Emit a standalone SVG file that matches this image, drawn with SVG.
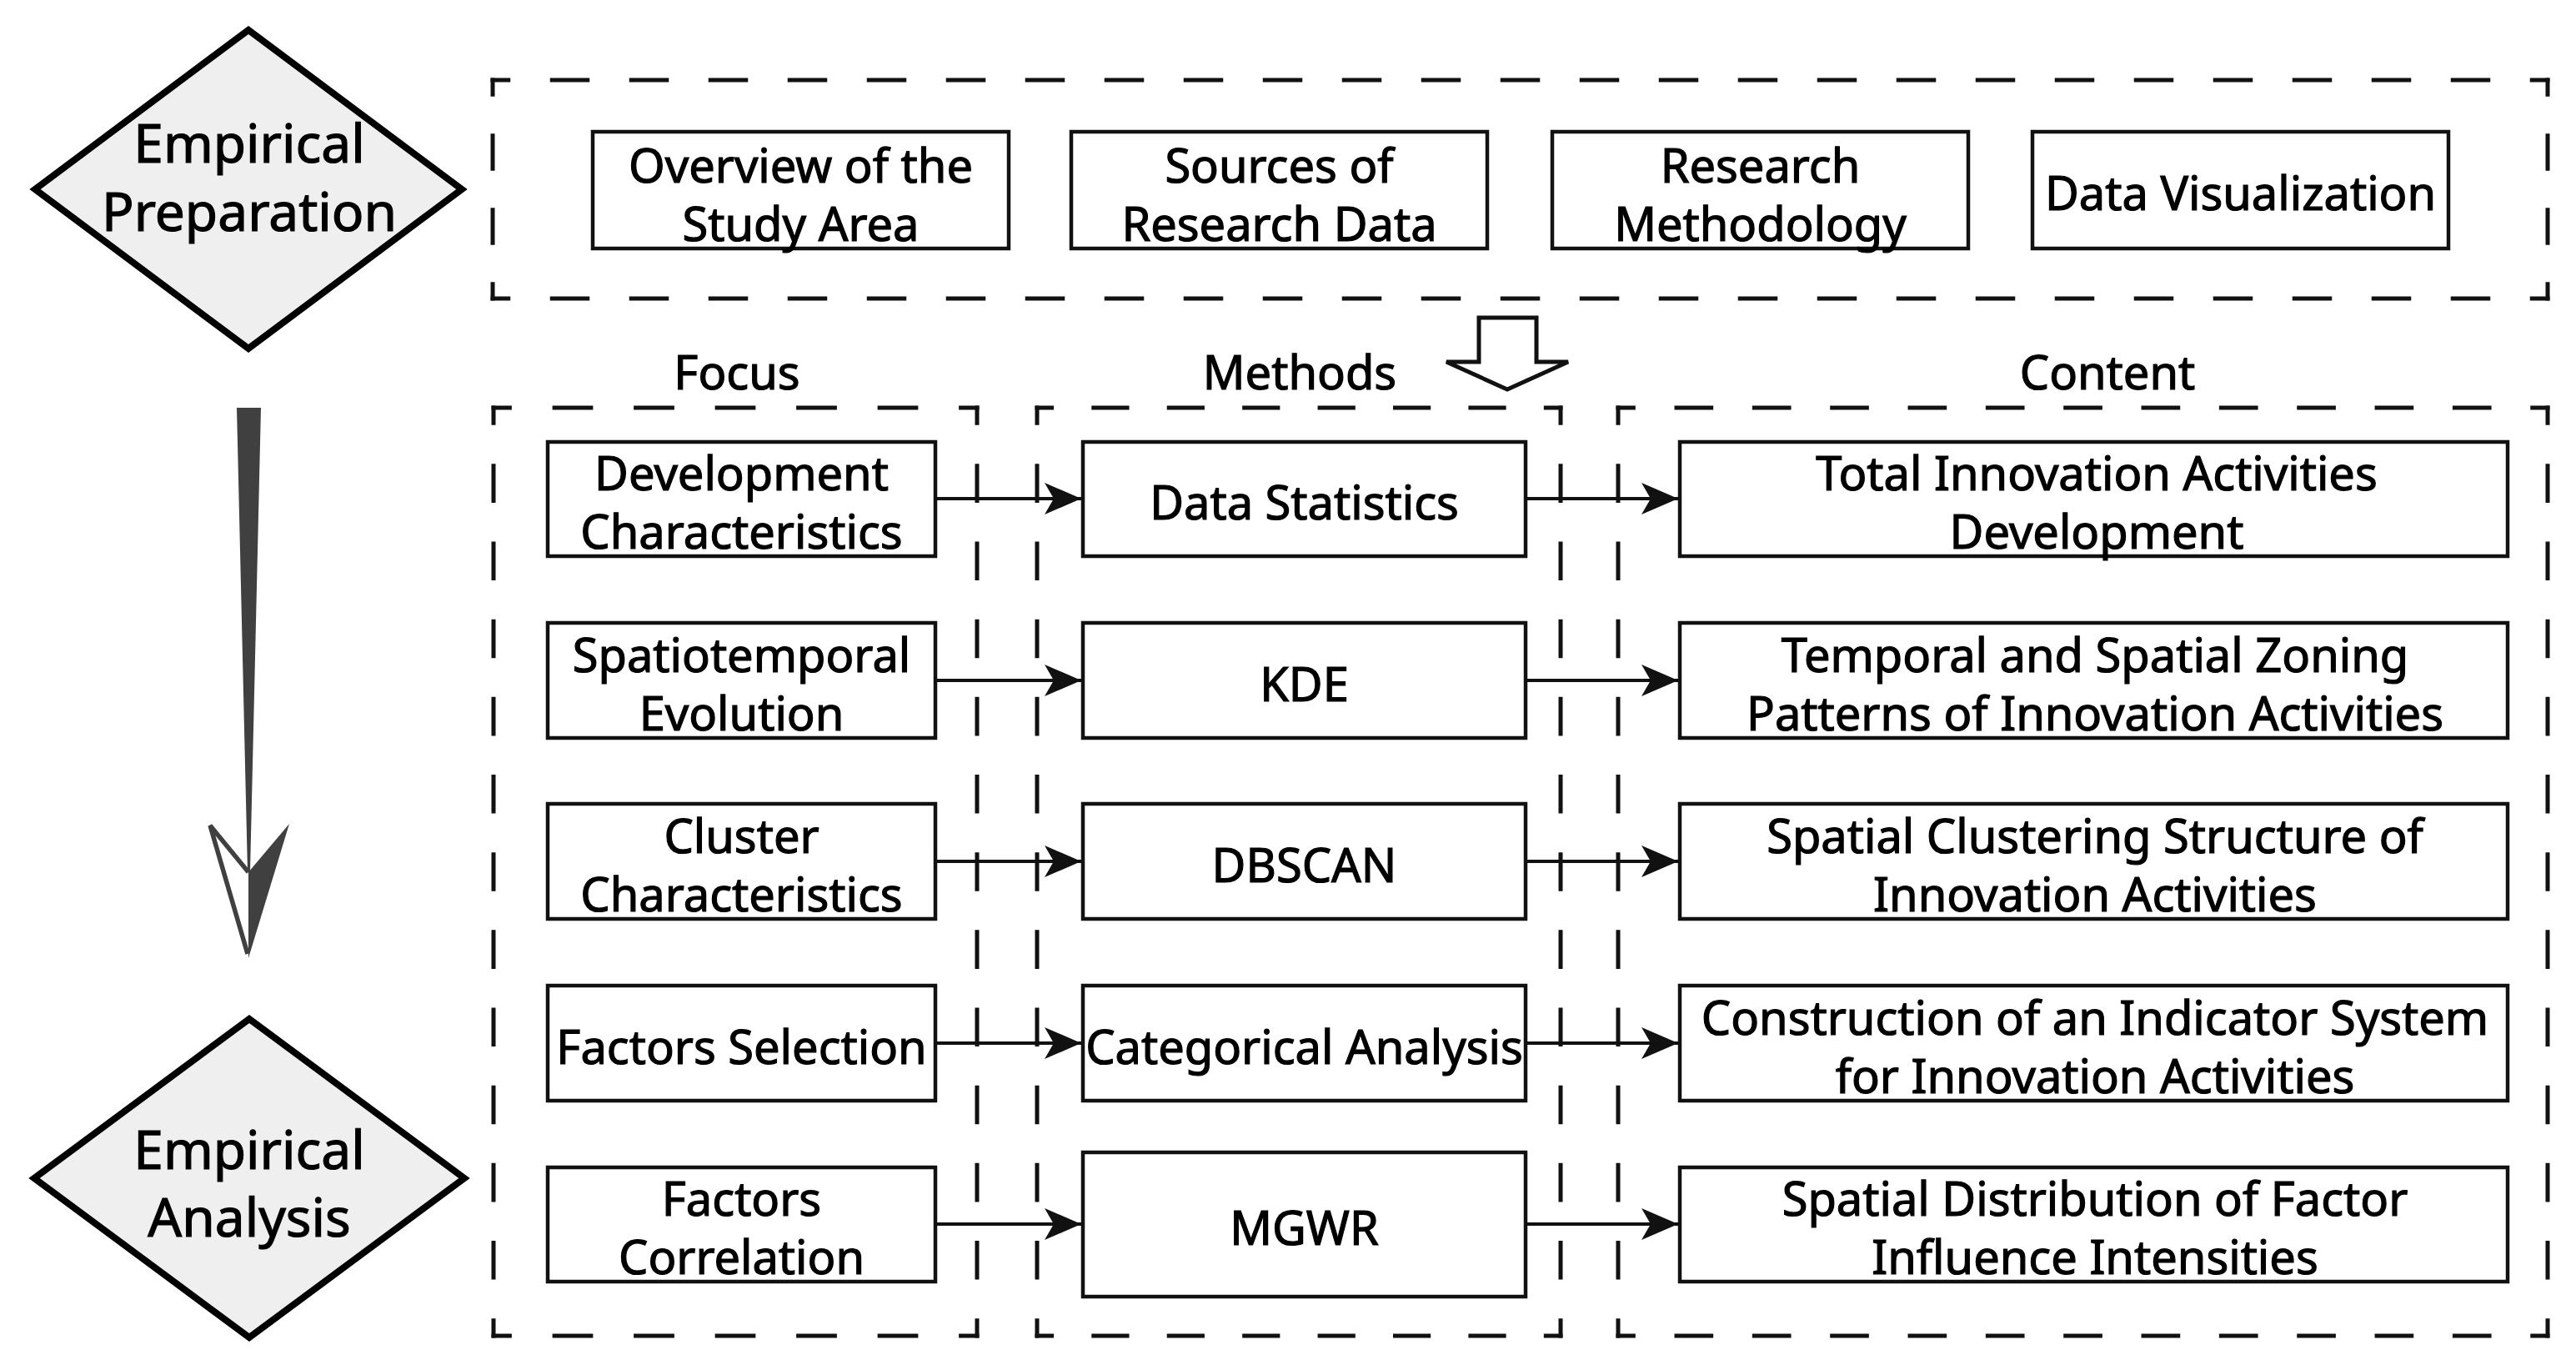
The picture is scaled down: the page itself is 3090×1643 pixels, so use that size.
<svg xmlns="http://www.w3.org/2000/svg" width="3090" height="1643" viewBox="0 0 3090 1643">
<defs>
<style>
.bg{fill:#ffffff}
.dash{stroke:#111;stroke-width:5;fill:none;stroke-linecap:butt}
.box{fill:#fff;stroke:#111;stroke-width:4.5}
.dia{fill:#efefef;stroke:#000;stroke-width:8;stroke-linejoin:miter}
.t{font-family:"Noto Sans","Open Sans","Liberation Sans",sans-serif;font-size:56px;fill:#000;stroke:#000;stroke-width:1.2;text-anchor:middle}
.td{font-family:"Noto Sans","Open Sans","Liberation Sans",sans-serif;font-size:64px;fill:#000;stroke:#000;stroke-width:1.2;text-anchor:middle}
.conn{stroke:#111;stroke-width:4;fill:none}
</style>
<marker id="ah" markerUnits="userSpaceOnUse" markerWidth="46" markerHeight="40" refX="44" refY="20" orient="auto" viewBox="0 0 46 40">
<path d="M0,1 L44,20 L0,39 L11,20 Z" fill="#111"/>
</marker>
</defs>
<rect class="bg" x="0" y="0" width="3090" height="1643"/>

<!-- dashed group frames -->
<g id="frame-top">
<line class="dash" x1="588.5" y1="96" x2="3058.5" y2="96" style="stroke-dasharray:47.5 47.5;stroke-dashoffset:23.75"/>
<line class="dash" x1="588.5" y1="358" x2="3058.5" y2="358" style="stroke-dasharray:47.5 47.5;stroke-dashoffset:23.75"/>
<line class="dash" x1="591" y1="93.5" x2="591" y2="360.5" style="stroke-dasharray:44.5 44.5;stroke-dashoffset:22.25"/>
<line class="dash" x1="3056" y1="93.5" x2="3056" y2="360.5" style="stroke-dasharray:44.5 44.5;stroke-dashoffset:22.25"/>
</g>
<g id="frame-focus">
<line class="dash" x1="589.5" y1="489" x2="1174.5" y2="489" style="stroke-dasharray:48.75 48.75;stroke-dashoffset:24.375"/>
<line class="dash" x1="589.5" y1="1602" x2="1174.5" y2="1602" style="stroke-dasharray:48.75 48.75;stroke-dashoffset:24.375"/>
<line class="dash" x1="592" y1="486.5" x2="592" y2="1604.5" style="stroke-dasharray:46.58 46.58;stroke-dashoffset:23.29"/>
<line class="dash" x1="1172" y1="486.5" x2="1172" y2="1604.5" style="stroke-dasharray:46.58 46.58;stroke-dashoffset:23.29"/>
</g>
<g id="frame-methods">
<line class="dash" x1="1241.5" y1="489" x2="1874.5" y2="489" style="stroke-dasharray:45.21 45.21;stroke-dashoffset:22.61"/>
<line class="dash" x1="1241.5" y1="1602" x2="1874.5" y2="1602" style="stroke-dasharray:45.21 45.21;stroke-dashoffset:22.61"/>
<line class="dash" x1="1244" y1="486.5" x2="1244" y2="1604.5" style="stroke-dasharray:46.58 46.58;stroke-dashoffset:23.29"/>
<line class="dash" x1="1872" y1="486.5" x2="1872" y2="1604.5" style="stroke-dasharray:46.58 46.58;stroke-dashoffset:23.29"/>
</g>
<g id="frame-content">
<line class="dash" x1="1938.5" y1="489" x2="3058.5" y2="489" style="stroke-dasharray:46.67 46.67;stroke-dashoffset:23.33"/>
<line class="dash" x1="1938.5" y1="1602" x2="3058.5" y2="1602" style="stroke-dasharray:46.67 46.67;stroke-dashoffset:23.33"/>
<line class="dash" x1="1941" y1="486.5" x2="1941" y2="1604.5" style="stroke-dasharray:46.58 46.58;stroke-dashoffset:23.29"/>
<line class="dash" x1="3056" y1="486.5" x2="3056" y2="1604.5" style="stroke-dasharray:46.58 46.58;stroke-dashoffset:23.29"/>
</g>

<!-- headers -->
<g id="headers">
<text class="t" x="884" y="467">Focus</text>
<text class="t" x="1559" y="467">Methods</text>
<text class="t" x="2528" y="467">Content</text>
</g>

<!-- diamonds -->
<g id="node-prep">
<polygon class="dia" points="298,36 554,227 298,418 42,227"/>
<text class="td" x="299" y="195">Empirical</text>
<text class="td" x="299" y="277">Preparation</text>
</g>
<g id="node-analysis">
<polygon class="dia" points="299,1222 557,1413 299,1604 41,1413"/>
<text class="td" x="299" y="1402">Empirical</text>
<text class="td" x="299" y="1483">Analysis</text>
</g>

<!-- top boxes -->
<g id="node-overview">
<rect class="box" x="711" y="158" width="499" height="140"/>
<text class="t" x="960.5" y="219">Overview of the</text>
<text class="t" x="960.5" y="289">Study Area</text>
</g>
<g id="node-sources">
<rect class="box" x="1285" y="158" width="499" height="140"/>
<text class="t" x="1534.5" y="219">Sources of</text>
<text class="t" x="1534.5" y="289">Research Data</text>
</g>
<g id="node-method">
<rect class="box" x="1862" y="158" width="499" height="140"/>
<text class="t" x="2111.5" y="219">Research</text>
<text class="t" x="2111.5" y="289">Methodology</text>
</g>
<g id="node-visual">
<rect class="box" x="2438" y="158" width="499" height="140"/>
<text class="t" x="2687.5" y="252">Data Visualization</text>
</g>

<!-- focus column -->
<g id="node-f1">
<rect class="box" x="657" y="530" width="465" height="137"/>
<text class="t" x="889.5" y="588">Development</text>
<text class="t" x="889.5" y="658">Characteristics</text>
</g>
<g id="node-f2">
<rect class="box" x="657" y="747" width="465" height="138"/>
<text class="t" x="889.5" y="806">Spatiotemporal</text>
<text class="t" x="889.5" y="876">Evolution</text>
</g>
<g id="node-f3">
<rect class="box" x="657" y="964" width="465" height="138"/>
<text class="t" x="889.5" y="1023">Cluster</text>
<text class="t" x="889.5" y="1093">Characteristics</text>
</g>
<g id="node-f4">
<rect class="box" x="657" y="1182" width="465" height="138"/>
<text class="t" x="889.5" y="1276">Factors Selection</text>
</g>
<g id="node-f5">
<rect class="box" x="657" y="1400" width="465" height="137"/>
<text class="t" x="889.5" y="1458">Factors</text>
<text class="t" x="889.5" y="1528">Correlation</text>
</g>

<!-- methods column -->
<g id="node-m1">
<rect class="box" x="1299" y="530" width="531" height="137"/>
<text class="t" x="1564.5" y="623">Data Statistics</text>
</g>
<g id="node-m2">
<rect class="box" x="1299" y="747" width="531" height="138"/>
<text class="t" x="1564.5" y="841">KDE</text>
</g>
<g id="node-m3">
<rect class="box" x="1299" y="964" width="531" height="138"/>
<text class="t" x="1564.5" y="1058">DBSCAN</text>
</g>
<g id="node-m4">
<rect class="box" x="1299" y="1182" width="531" height="138"/>
<text class="t" x="1564.5" y="1276">Categorical Analysis</text>
</g>
<g id="node-m5">
<rect class="box" x="1299" y="1382" width="531" height="173"/>
<text class="t" x="1564.5" y="1493">MGWR</text>
</g>

<!-- content column -->
<g id="node-c1">
<rect class="box" x="2015" y="530" width="993" height="137"/>
<text class="t" x="2515" y="588">Total Innovation Activities</text>
<text class="t" x="2515" y="658">Development</text>
</g>
<g id="node-c2">
<rect class="box" x="2015" y="747" width="993" height="138"/>
<text class="t" x="2513" y="806">Temporal and Spatial Zoning</text>
<text class="t" x="2513" y="876">Patterns of Innovation Activities</text>
</g>
<g id="node-c3">
<rect class="box" x="2015" y="964" width="993" height="138"/>
<text class="t" x="2513" y="1023">Spatial Clustering Structure of</text>
<text class="t" x="2513" y="1093">Innovation Activities</text>
</g>
<g id="node-c4">
<rect class="box" x="2015" y="1182" width="993" height="138"/>
<text class="t" x="2513" y="1241">Construction of an Indicator System</text>
<text class="t" x="2513" y="1311">for Innovation Activities</text>
</g>
<g id="node-c5">
<rect class="box" x="2015" y="1400" width="993" height="137"/>
<text class="t" x="2513" y="1458">Spatial Distribution of Factor</text>
<text class="t" x="2513" y="1528">Influence Intensities</text>
</g>

<!-- big flow arrows -->
<g id="arrow-down-left">
<polygon points="284,489 313,489 300,1046 297,1046" fill="#404040"/>
<polygon points="347,988 298,1046 298,1149" fill="#404040"/>
<polyline points="298,1046 252,990 297,1144" fill="#fff" stroke="#404040" stroke-width="5.5" stroke-linejoin="miter"/>
</g>
<g id="arrow-hollow">
<polygon points="1774,381 1843,381 1843,434 1881,434 1808,467 1735,434 1774,434" fill="#fff" stroke="#111" stroke-width="5"/>
</g>

<!-- connectors -->
<g id="connectors">
<line class="conn" x1="1122" y1="598" x2="1297" y2="598" marker-end="url(#ah)"/>
<line class="conn" x1="1830" y1="598" x2="2013" y2="598" marker-end="url(#ah)"/>
<line class="conn" x1="1122" y1="816" x2="1297" y2="816" marker-end="url(#ah)"/>
<line class="conn" x1="1830" y1="816" x2="2013" y2="816" marker-end="url(#ah)"/>
<line class="conn" x1="1122" y1="1033" x2="1297" y2="1033" marker-end="url(#ah)"/>
<line class="conn" x1="1830" y1="1033" x2="2013" y2="1033" marker-end="url(#ah)"/>
<line class="conn" x1="1122" y1="1251" x2="1297" y2="1251" marker-end="url(#ah)"/>
<line class="conn" x1="1830" y1="1251" x2="2013" y2="1251" marker-end="url(#ah)"/>
<line class="conn" x1="1122" y1="1468" x2="1297" y2="1468" marker-end="url(#ah)"/>
<line class="conn" x1="1830" y1="1468" x2="2013" y2="1468" marker-end="url(#ah)"/>
</g>
</svg>
